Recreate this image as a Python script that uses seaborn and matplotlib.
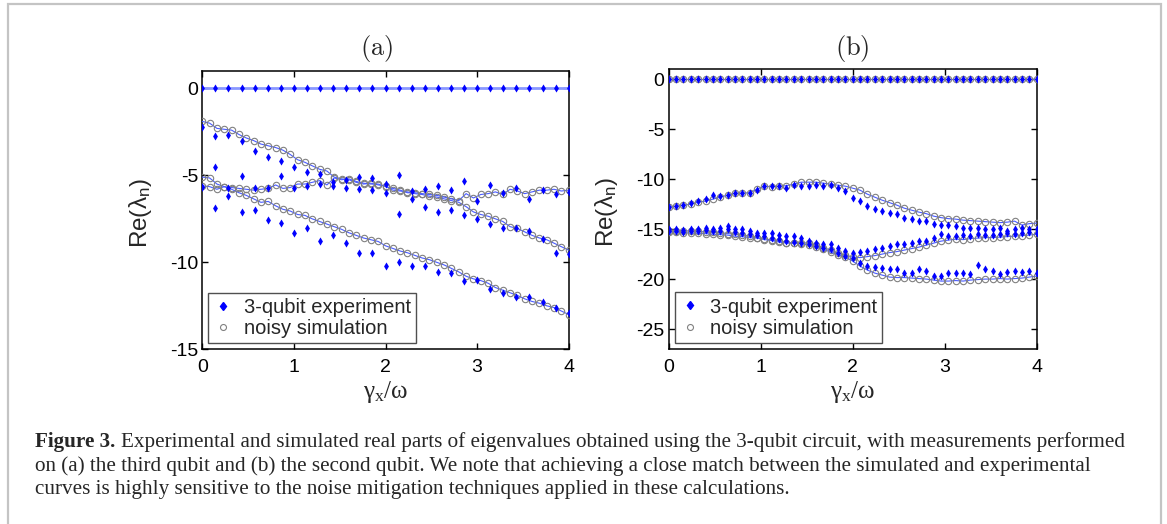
import numpy as np
import matplotlib
matplotlib.use("Agg")
import matplotlib.pyplot as plt
from matplotlib.patches import Rectangle
import seaborn as sns

# ==========================================
# 1. DADOS
# ==========================================
# grade de gamma_x/omega
gamma_sim = np.round(np.arange(51) * 0.08, 2)        # simulação (a) e (b), experimento (b)
gamma_exp_a = np.round(np.arange(29) / 7, 4)         # experimento (a)

# --- painel (a): simulação ruidosa ---
sim_a_zero = [0.0] * 51
sim_a_1 = [-1.9, -2.0, -2.3, -2.35, -2.4, -2.65, -2.85, -3.0, -3.2, -3.3, -3.4, -3.55, -3.8,
           -4.1, -4.25, -4.45, -4.65, -4.75, -5.1, -5.2, -5.25, -5.4, -5.5, -5.45, -5.55,
           -5.6, -5.85, -5.9, -5.95, -6.05, -6.1, -6.2, -6.25, -6.35, -6.45, -6.55, -6.8,
           -7.1, -7.25, -7.35, -7.5, -7.65, -7.95, -8.05, -8.25, -8.45, -8.6, -8.7, -8.9,
           -9.1, -9.3]
sim_a_2 = [-5.6, -5.65, -5.8, -5.65, -5.7, -5.75, -5.8, -5.85, -5.8, -5.75, -5.55, -5.75,
           -5.7, -5.5, -5.5, -5.4, -5.3, -5.55, -5.15, -5.25, -5.2, -5.35, -5.45, -5.5, -5.5,
           -5.65, -5.75, -5.85, -6.0, -6.0, -6.05, -6.1, -6.15, -6.25, -6.35, -6.45, -6.05,
           -6.3, -6.1, -6.05, -5.95, -6.1, -5.8, -5.9, -6.05, -5.95, -5.85, -5.85, -5.8,
           -5.9, -5.85]
sim_a_3 = [-5.1, -5.15, -5.5, -5.65, -5.8, -6.0, -6.15, -6.35, -6.55, -6.5, -6.75, -6.95,
           -7.05, -7.25, -7.3, -7.5, -7.65, -7.8, -7.95, -8.1, -8.3, -8.45, -8.6, -8.7, -8.8,
           -9.05, -9.2, -9.35, -9.45, -9.6, -9.75, -9.85, -10.0, -10.15, -10.35, -10.55,
           -10.8, -10.95, -11.05, -11.2, -11.45, -11.6, -11.75, -11.9, -12.1, -12.25, -12.35,
           -12.5, -12.6, -12.8, -13.0]

# --- painel (a): experimento 3 qubits ---
exp_a_zero = [0.0] * 29
exp_a_1 = [-2.2, -2.74, -2.68, -3.01, -3.58, -3.93, -4.18, -4.5, -4.83, -4.93, -5.37, -5.27,
           -5.12, -5.17, -5.5, -5.0, -5.9, -5.8, -5.61, -5.84, -5.31, -6.46, -5.56, -6.0,
           -5.71, -6.38, -5.84, -6.07, -5.94]
exp_a_2 = [-5.65, -4.51, -5.7, -5.04, -5.71, -5.7, -5.02, -5.72, -5.6, -5.5, -5.6, -5.7,
           -5.8, -5.85, -6.0, -7.22, -6.35, -6.8, -7.09, -6.99, -7.28, -7.53, -7.8, -8.01,
           -8.01, -8.18, -8.66, -9.48, -9.52]
exp_a_3 = [-5.65, -6.9, -6.19, -7.13, -6.99, -7.57, -7.76, -8.33, -8.05, -8.76, -8.43, -8.87,
           -9.45, -9.45, -10.2, -10.0, -10.2, -10.2, -10.58, -10.63, -11.06, -11.0, -11.55,
           -11.75, -12.01, -11.97, -12.3, -12.64, -12.93]

# --- painel (b): simulação ruidosa ---
sim_b_zero = [0.0] * 51
sim_b_1 = [-12.8, -12.7, -12.6, -12.5, -12.3, -12.2, -12.0, -11.8, -11.6, -11.4, -11.4,
           -11.35, -11.0, -10.7, -10.75, -10.7, -10.65, -10.5, -10.3, -10.3, -10.3, -10.4,
           -10.5, -10.6, -10.7, -10.9, -11.1, -11.5, -11.8, -12.1, -12.35, -12.6, -12.9,
           -13.1, -13.3, -13.45, -13.7, -13.85, -13.95, -14.0, -14.1, -14.15, -14.2, -14.25,
           -14.3, -14.35, -14.3, -14.2, -14.6, -14.45, -14.4]
sim_b_2 = [-15.2, -15.2, -15.2, -15.15, -15.2, -15.3, -15.3, -15.35, -15.45, -15.5, -15.6,
           -15.7, -15.85, -15.95, -16.1, -16.2, -16.35, -16.4, -16.35, -16.4, -16.6, -16.85,
           -17.1, -17.4, -17.6, -17.8, -17.85, -17.75, -17.65, -17.5, -17.35, -17.25, -17.1,
           -16.95, -16.8, -16.6, -16.4, -16.2, -16.1, -16.0, -16.05, -15.95, -15.9, -15.85,
           -15.85, -15.8, -15.75, -15.7, -15.65, -15.6, -15.5]
sim_b_3 = [-15.3, -15.3, -15.35, -15.4, -15.4, -15.45, -15.5, -15.55, -15.6, -15.7, -15.75,
           -15.85, -15.9, -16.05, -16.15, -16.3, -16.4, -16.4, -16.45, -16.6, -16.8, -17.0,
           -17.3, -17.55, -17.8, -18.2, -18.7, -19.1, -19.4, -19.6, -19.8, -19.85, -19.85,
           -19.9, -19.95, -20.0, -20.1, -20.2, -20.2, -20.15, -20.2, -20.1, -20.05, -20.0,
           -20.0, -19.95, -20.0, -19.95, -19.9, -19.8, -19.7]

# --- painel (b): experimento 3 qubits ---
exp_b_zero = [0.0] * 51
exp_b_1 = [-12.8, -12.7, -12.6, -12.37, -12.2, -12.03, -11.54, -11.7, -11.54, -11.37, -11.37,
           -11.37, -11.04, -10.7, -10.7, -10.64, -10.87, -10.54, -10.64, -10.64, -10.54,
           -10.64, -10.54, -10.87, -11.2, -11.87, -12.2, -12.7, -13.03, -13.2, -13.36, -13.53,
           -13.86, -13.96, -14.19, -14.19, -14.53, -14.63, -14.6, -14.69, -14.86, -14.86,
           -14.86, -15.03, -15.03, -14.86, -15.19, -15.03, -14.86, -15.03, -15.03]
exp_b_2 = [-15.0, -15.0, -15.1, -15.03, -15.03, -14.86, -15.03, -14.86, -14.69, -15.03, -15.03,
           -15.19, -15.36, -15.36, -15.36, -15.62, -15.69, -15.69, -15.86, -16.19, -16.35,
           -16.52, -16.52, -16.85, -17.19, -17.35, -17.29, -17.19, -17.02, -16.85, -16.69,
           -16.52, -16.52, -16.35, -16.19, -16.19, -15.86, -15.52, -15.69, -15.69, -15.62,
           -15.69, -15.52, -15.62, -15.62, -15.52, -15.42, -15.52, -15.36, -15.29, -15.36]
exp_b_3 = [-15.2, -15.2, -15.3, -15.19, -15.19, -15.1, -15.19, -15.19, -15.03, -15.29, -15.36,
           -15.52, -15.62, -15.69, -15.86, -16.0, -16.19, -16.3, -16.35, -16.52, -16.69,
           -16.85, -17.02, -17.35, -17.68, -17.85, -18.35, -18.68, -18.75, -18.85, -19.01,
           -18.95, -19.35, -19.35, -19.01, -19.18, -19.68, -19.68, -19.35, -19.35, -19.35,
           -19.51, -18.61, -19.01, -19.18, -19.51, -19.28, -19.18, -19.28, -19.18, -19.35]

yticks_a = [0, -5, -10, -15]
yticks_b = [0, -5, -10, -15, -20, -25]
xticks = [0, 1, 2, 3, 4]

legenda_exp = "3-qubit experiment"
legenda_sim = "noisy simulation"

caption_bold = "Figure 3."
caption_lines = [
    "Experimental and simulated real parts of eigenvalues obtained using the 3-qubit circuit, with measurements performed",
    "on (a) the third qubit and (b) the second qubit. We note that achieving a close match between the simulated and experimental",
    "curves is highly sensitive to the noise mitigation techniques applied in these calculations.",
]

# ==========================================
# 2. ESTILO
# ==========================================
sns.set_theme(style="white")
plt.rcParams["font.family"] = ["Liberation Sans", "DejaVu Sans"]
plt.rcParams["axes.unicode_minus"] = False

W, H = 1167, 524
fig = plt.figure(figsize=(W / 100, H / 100), dpi=100)
fig.patch.set_facecolor("white")

AZUL = "#0000ff"
LINHA = "#4a5cff"
CINZA = "#808080"


def desenha(ax, g_sim, sims, g_exp, exps, zero_sem_marcador):
    for i, s in enumerate(sims):
        if i == 0 and zero_sem_marcador:
            sns.lineplot(x=g_sim, y=s, ax=ax, color="#8a98ff", lw=2.0,
                         estimator=None, sort=False, zorder=2)
            continue
        sns.lineplot(x=g_sim, y=s, ax=ax, color=LINHA, lw=0.8, marker="o",
                     markersize=4.6, markerfacecolor="none", markeredgecolor=CINZA,
                     markeredgewidth=0.8, estimator=None, sort=False, zorder=3)
    for e in exps:
        sns.scatterplot(x=g_exp, y=e, ax=ax, marker="d", s=17, color=AZUL,
                        linewidth=0, zorder=4)


def estiliza(ax, ylim, yticks, ylab_x):
    ax.set_xlim(0, 4)
    ax.set_ylim(*ylim)
    ax.set_xticks(xticks)
    ax.set_yticks(yticks)
    ax.set_xticklabels([str(t) for t in xticks])
    ax.set_yticklabels([str(t) for t in yticks])
    for sp in ax.spines.values():
        sp.set_visible(True)
        sp.set_color("black")
        sp.set_linewidth(1.1)
    ax.tick_params(direction="in", top=True, right=True, bottom=True, left=True,
                   length=4, width=1, colors="black", labelsize=14)
    ax.tick_params(axis="x", pad=7)
    ax.tick_params(axis="y", pad=3)
    ax.set_xlabel(r"$\mathregular{γ_x/ω}$", fontsize=18, family="Liberation Serif",
                  ha="center", va="center")
    ax.xaxis.set_label_coords(0.5, -0.155)
    ax.set_ylabel(r"$\mathregular{Re(λ_n)}$", fontsize=17.5, ha="center", va="center")
    ax.yaxis.set_label_coords(ylab_x, 0.49)
    # legenda apenas com um item de cada
    h_exp = plt.Line2D([], [], ls="none", marker="d", ms=4.5, color=AZUL, mec=AZUL)
    h_sim = plt.Line2D([], [], ls="none", marker="o", ms=4.3, mfc="none", mec=CINZA, mew=0.8)
    leg = ax.legend([h_exp, h_sim], [legenda_exp, legenda_sim], loc="lower left",
                    fontsize=14.5, frameon=True, fancybox=False, framealpha=1,
                    edgecolor="#505050", borderpad=0.25, labelspacing=0.12,
                    handlelength=1.0, handletextpad=0.5, borderaxespad=0.3)
    leg.get_frame().set_linewidth(1.0)


# ==========================================
# 3. PAINÉIS
# ==========================================
ax_a = fig.add_axes([202.3 / W, 1 - 349.3 / H, 366.4 / W, 278.3 / H])
desenha(ax_a, gamma_sim, [sim_a_zero, sim_a_1, sim_a_2, sim_a_3],
        gamma_exp_a, [exp_a_zero, exp_a_1, exp_a_2, exp_a_3], True)
estiliza(ax_a, (-15, 1), yticks_a, -0.170)

ax_b = fig.add_axes([668.7 / W, 1 - 349.0 / H, 368.0 / W, 279.7 / H])
desenha(ax_b, gamma_sim, [sim_b_zero, sim_b_1, sim_b_2, sim_b_3],
        gamma_sim, [exp_b_zero, exp_b_1, exp_b_2, exp_b_3], False)
estiliza(ax_b, (-27, 1), yticks_b, -0.168)

fig.text(377 / W, 1 - 49 / H, r"$\mathrm{(a)}$", math_fontfamily="cm", fontsize=19,
         ha="center", va="center")
fig.text(852.5 / W, 1 - 48 / H, r"$\mathrm{(b)}$", math_fontfamily="cm", fontsize=19,
         ha="center", va="center")

# ==========================================
# 4. LEGENDA DA FIGURA (texto), ajustada à largura
# ==========================================
SERIF = ["Liberation Serif", "DejaVu Serif"]
renderer = fig.canvas.get_renderer()


def largura(s, size, weight):
    t = fig.text(0, 0, s, fontsize=size, weight=weight, family=SERIF)
    w = t.get_window_extent(renderer).width
    t.remove()
    return w


fs = 14.0
alvo = 1128 - 35
w_total = largura(caption_bold, fs, "bold") + 0.25 * fs / 0.72 + largura(caption_lines[0], fs, "normal")
fs = fs * alvo / w_total

x0 = 35
bases = [447, 470.5, 494]
wb = largura(caption_bold, fs, "bold")
fig.text(x0 / W, 1 - bases[0] / H, caption_bold, fontsize=fs, weight="bold",
         family=SERIF, va="baseline", ha="left")
fig.text((x0 + wb + 0.25 * fs / 0.72) / W, 1 - bases[0] / H, caption_lines[0],
         fontsize=fs, family=SERIF, va="baseline", ha="left")
for linha, yb in zip(caption_lines[1:], bases[1:]):
    fig.text(x0 / W, 1 - yb / H, linha, fontsize=fs, family=SERIF, va="baseline", ha="left")

# moldura cinza
fig.add_artist(Rectangle((8 / W, -0.1), (1161 - 8) / W, 1.1 - 4 / H,
                         transform=fig.transFigure, fill=False,
                         edgecolor="#c4c4c4", lw=1.6))

fig.savefig("out.png", dpi=100, facecolor="white")
plt.close(fig)
